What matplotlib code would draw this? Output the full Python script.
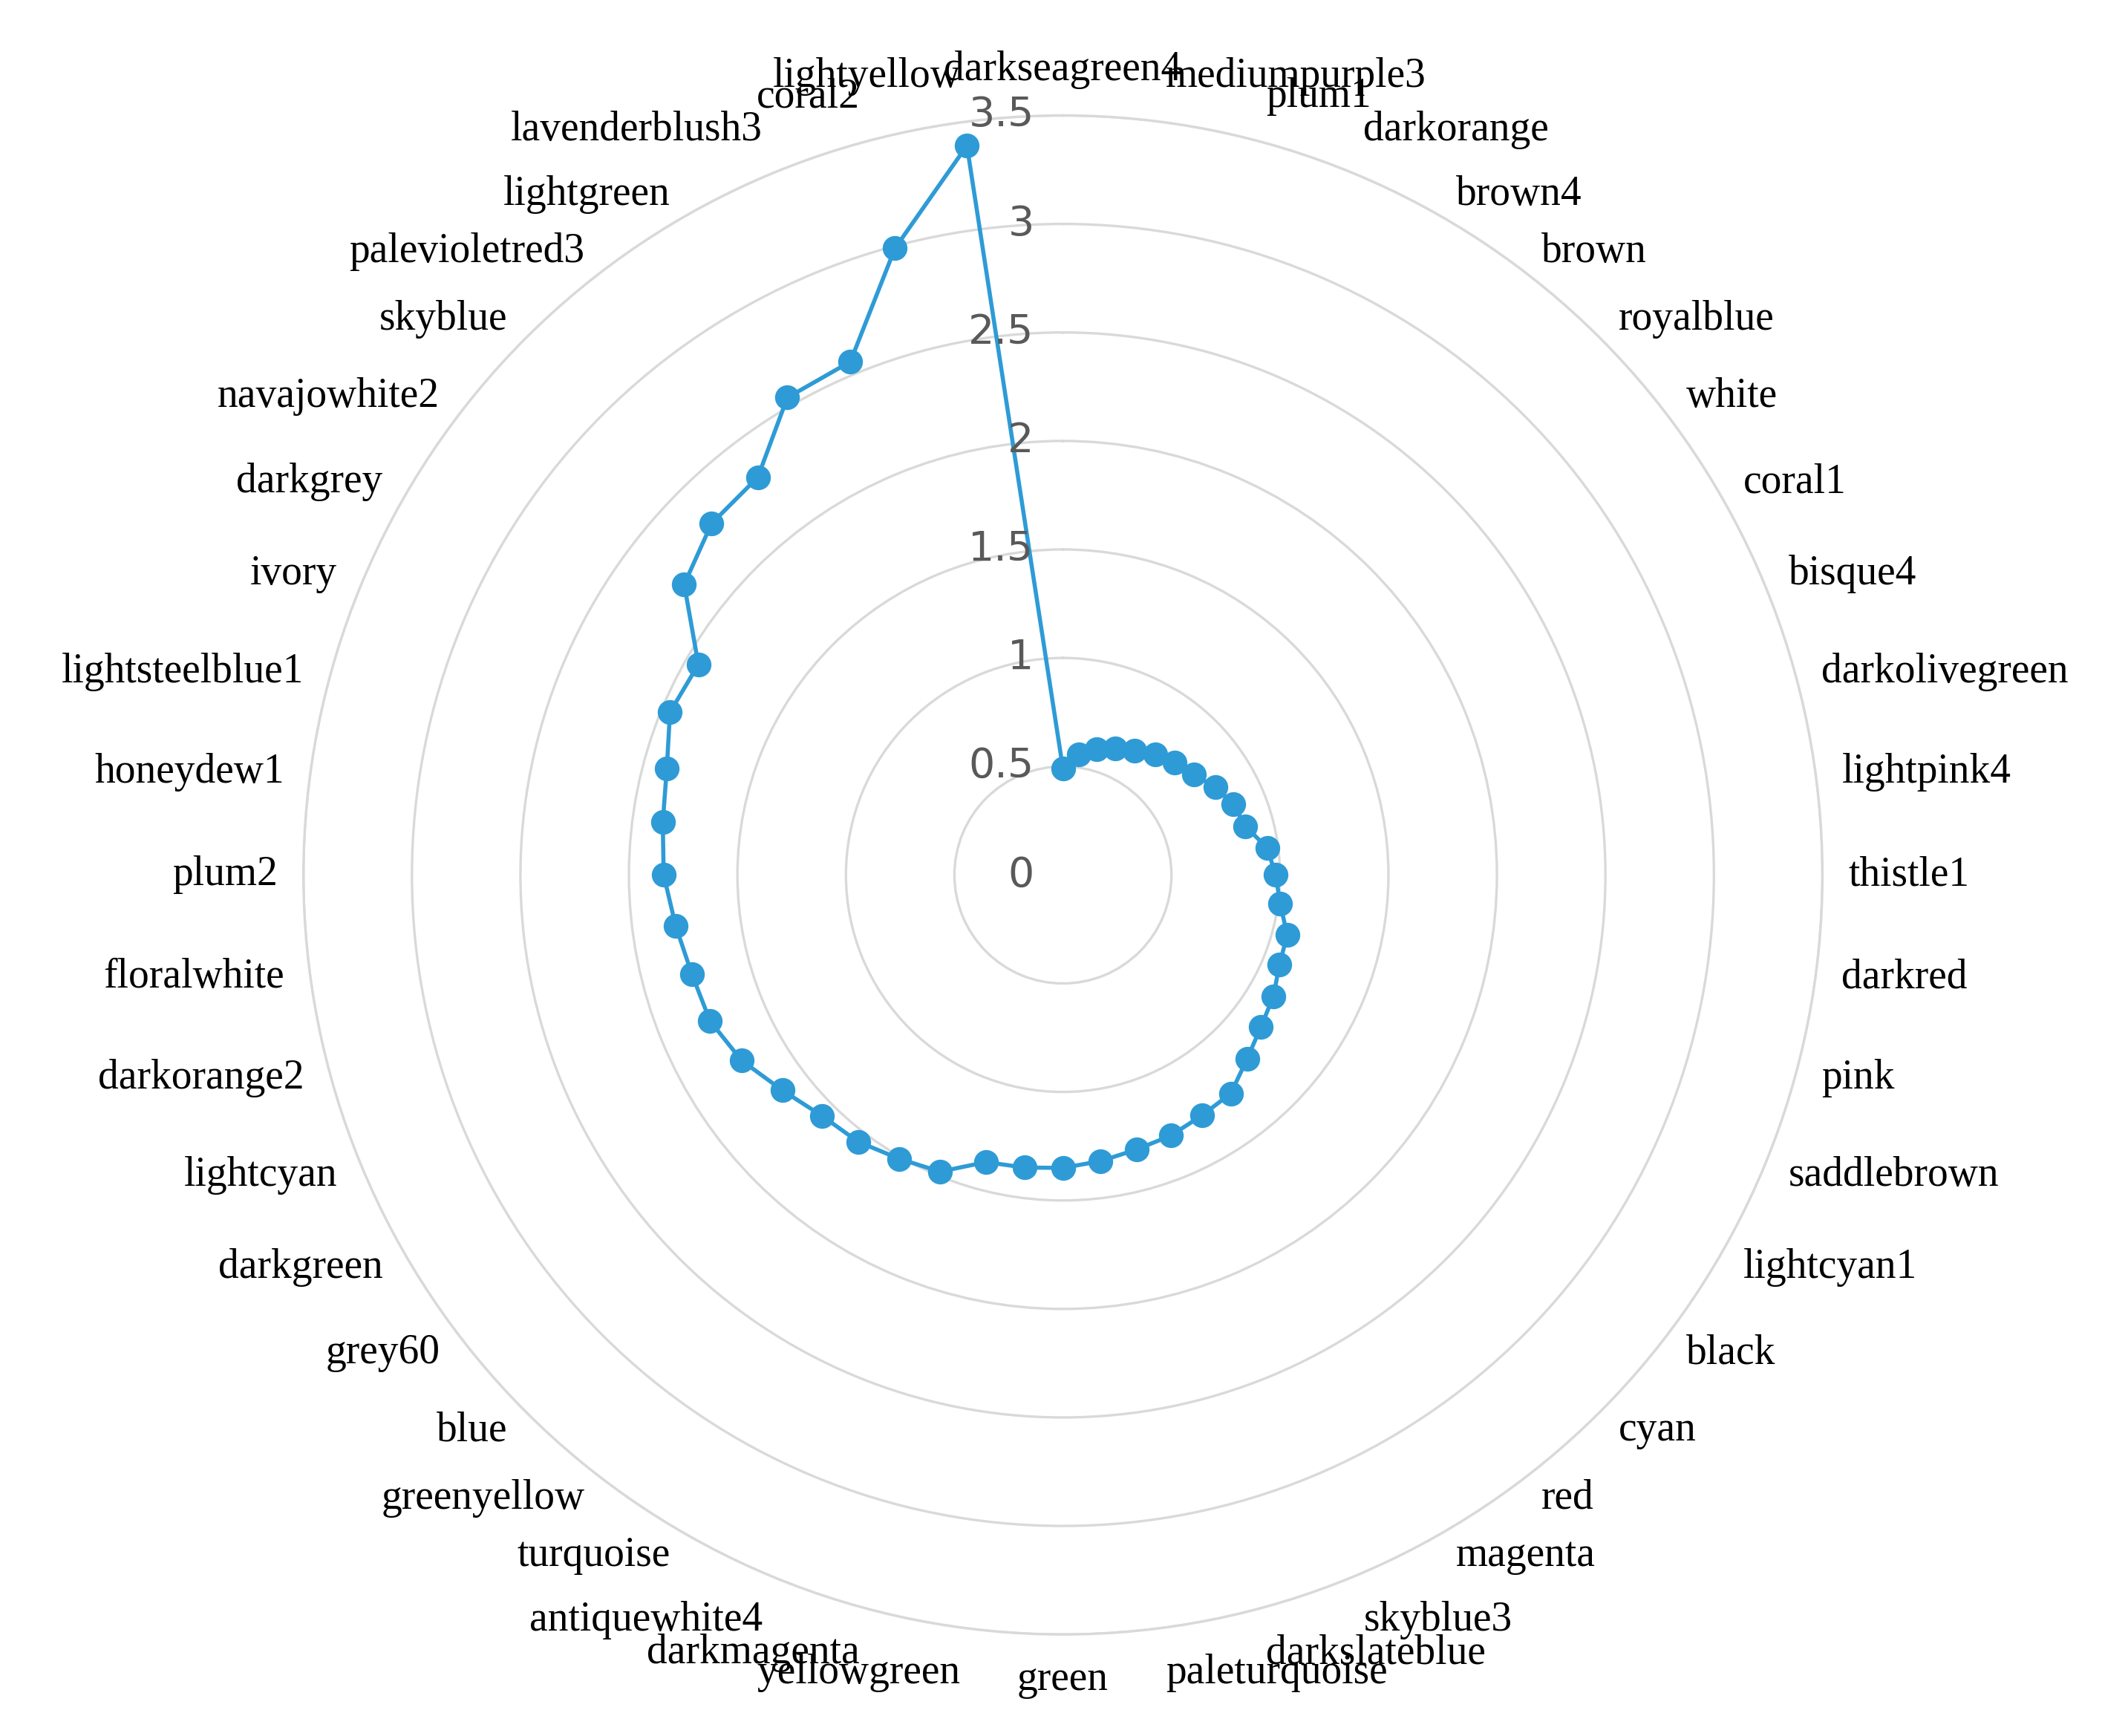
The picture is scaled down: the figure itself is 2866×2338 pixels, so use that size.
import numpy as np
import matplotlib.pyplot as plt

categories = ['darkseagreen4', 'mediumpurple3', 'plum1', 'darkorange', 'brown4', 'brown',
              'royalblue', 'white', 'coral1', 'bisque4', 'darkolivegreen', 'lightpink4',
              'thistle1', 'darkred', 'pink', 'saddlebrown', 'lightcyan1', 'black', 'cyan',
              'red', 'magenta', 'skyblue3', 'darkslateblue', 'paleturquoise', 'green',
              'yellowgreen', 'darkmagenta', 'antiquewhite4', 'turquoise', 'greenyellow',
              'blue', 'grey60', 'darkgreen', 'lightcyan', 'darkorange2', 'floralwhite',
              'plum2', 'honeydew1', 'lightsteelblue1', 'ivory', 'darkgrey', 'navajowhite2',
              'skyblue', 'palevioletred3', 'lightgreen', 'lavenderblush3', 'coral2',
              'lightyellow']
values = [0.49, 0.56, 0.60, 0.63, 0.66, 0.70, 0.73, 0.76, 0.81, 0.85,
          0.87, 0.95, 0.98, 1.01, 1.07, 1.08, 1.12, 1.15, 1.20, 1.27,
          1.28, 1.30, 1.31, 1.33, 1.35, 1.36, 1.37, 1.48, 1.51, 1.55,
          1.57, 1.63, 1.71, 1.76, 1.77, 1.80, 1.84, 1.86, 1.89, 1.96,
          1.94, 2.20, 2.29, 2.31, 2.54, 2.56, 2.99, 3.39]
rticks = [0, 0.5, 1, 1.5, 2, 2.5, 3, 3.5]

n = len(categories)
theta = np.arange(n) * 2 * np.pi / n

fig = plt.figure(figsize=(14.33, 11.69), dpi=200)
ax = fig.add_axes([0.1425, 0.0585, 0.714, 0.875], projection='polar')
ax.set_theta_zero_location('N')
ax.set_theta_direction(-1)
ax.set_ylim(0, 3.5)
ax.set_yticks(rticks[1:])
ax.set_yticklabels([])
ax.set_xticks([])
ax.grid(False)
ax.yaxis.grid(True, color='#d9d9d9', lw=1.2)
ax.spines['polar'].set_color('#d9d9d9')
ax.spines['polar'].set_linewidth(1.2)

# close the loop like the original
th_c = np.append(theta, theta[0])
v_c = values + values[:1]
ax.plot(th_c, v_c, color='#2e9bd6', lw=2, zorder=3)
ax.plot(theta, values, ls='none', color='#2e9bd6', marker='o', ms=11, zorder=3)

for v in rticks:
    ax.annotate(f'{v:g}', (0, v), xytext=(-14, 0), textcoords='offset points',
                ha='right', va='center', fontsize=20, color='#595959',
                family='DejaVu Sans', zorder=4)

for t, lab in zip(theta, categories):
    s, c = np.sin(t), np.cos(t)
    ha = 'center' if abs(s) < 0.05 else ('left' if s > 0 else 'right')
    va = 'center'
    if c > 0.9:
        va = 'bottom'
    elif c < -0.9:
        va = 'top'
    ax.text(t, 3.62, lab, ha=ha, va=va, fontsize=20,
            family='Liberation Serif', color='black')

fig.savefig('out.png', dpi=200, facecolor='white')
